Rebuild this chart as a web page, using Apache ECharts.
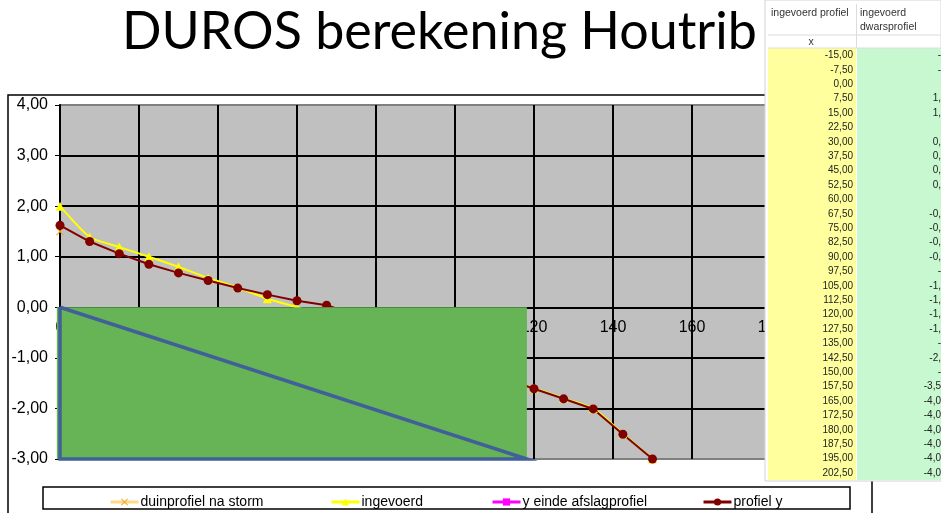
<!DOCTYPE html>
<html>
<head>
<meta charset="utf-8">
<script src="https://cdn.jsdelivr.net/npm/echarts@6/dist/echarts.min.js"></script>
<style>
  html, body { margin: 0; padding: 0; background: #fff; }
  #main { width: 941px; height: 513px; }
</style>
</head>
<body>
<div id="main"></div>
<script>
  // titel en reeksen
  const titleText = 'DUROS berekening Houtrib';
  const seriesNames = ['duinprofiel na storm', 'ingevoerd', 'y einde afslagprofiel', 'profiel y'];

  // x-waarden (m) van de profielpunten
  const xProfiel = [0, 7.5, 15, 22.5, 30, 37.5, 45, 52.5, 60, 67.5, 75, 82.5, 90, 97.5, 105,
    112.5, 120, 127.5, 135, 142.5, 150];
  const yProfiel = [1.62, 1.30, 1.06, 0.85, 0.68, 0.53, 0.38, 0.25, 0.13, 0.04, -0.15, -0.40,
    -0.65, -0.90, -1.15, -1.40, -1.61, -1.81, -2.01, -2.51, -3.00];

  const xIngevoerd = [0, 7.5, 15, 22.5, 30, 37.5, 45, 52.5, 60, 67.5, 75, 82.5, 90, 97.5, 105,
    112.5, 120, 127.5, 135, 142.5, 150, 157.5, 165, 172.5, 180, 187.5, 195, 202.5];
  const yIngevoerd = [2.00, 1.39, 1.19, 1.00, 0.80, 0.58, 0.39, 0.17, 0.00, -0.20, -0.40, -0.60,
    -0.80, -1.00, -1.20, -1.40, -1.60, -1.80, -2.00, -2.50, -3.00, -3.50, -4.00, -4.00, -4.00,
    -4.00, -4.00, -4.00];

  const xDuin = [0];
  const yDuin = [1.50];

  // afgeplakt vlak (groen) en driehoek (blauw) in grafiekcoordinaten
  const vlakX = [-0.8, 118.2];
  const vlakY = [0, -3];
  const driehoek = [[0, 0], [118.2, -3], [0, -3], [0, 0]];

  // tabel rechts
  const tabelX = ['-15,00', '-7,50', '0,00', '7,50', '15,00', '22,50', '30,00', '37,50', '45,00',
    '52,50', '60,00', '67,50', '75,00', '82,50', '90,00', '97,50', '105,00', '112,50', '120,00',
    '127,50', '135,00', '142,50', '150,00', '157,50', '165,00', '172,50', '180,00', '187,50',
    '195,00', '202,50'];
  const tabelDwars = ['-', '-', '', '1,', '1,', '', '0,', '0,', '0,', '0,', '', '-0,', '-0,', '-0,',
    '-0,', '-', '-1,', '-1,', '-1,', '-1,', '-', '-2,', '-', '-3,5', '-4,0', '-4,0', '-4,0', '-4,0',
    '-4,0', '-4,0'];

  const yMin = -3, yMax = 4;
  const zip = (xs, ys) => xs.map((x, i) => [x, ys[i]]);
  const kruis = 'path://M0,1L1,0L5,4L9,0L10,1L6,5L10,9L9,10L5,6L1,10L0,9L4,5Z';

  // titel passend maken op de breedte uit het origineel
  const ctx = document.createElement('canvas').getContext('2d');
  ctx.font = '100px Lato';
  const titleSize = Math.round(100 * 633 / ctx.measureText(titleText).width);

  // plotgebied
  const gridTop = 105, gridBottom = 54;
  const plotH = 513 - gridTop - gridBottom;
  // x-as ligt op y = 0 (zoals in Excel)
  const xAsOffset = -plotH * (0 - yMin) / (yMax - yMin);

  const chart = echarts.init(document.getElementById('main'));

  const kopFont = '10.5px "Liberation Sans"';
  const celFont = '10px "Liberation Sans"';
  let graphics = [
    // kader van de grafiek
    {type: 'rect', shape: {x: 8, y: 95, width: 864, height: 440},
      style: {fill: null, stroke: '#000', lineWidth: 1.5}, z: 50},
    // kader legenda
    {type: 'rect', shape: {x: 43, y: 487, width: 807, height: 22},
      style: {fill: null, stroke: '#000', lineWidth: 1.5}, z: 50},
    {type: 'text', x: 122, y: 32, z: 100,
      style: {text: titleText, font: titleSize + 'px Lato', fill: '#000', align: 'left', verticalAlign: 'middle'}},
    // tabel
    {type: 'rect', shape: {x: 765, y: 0, width: 176, height: 481},
      style: {fill: '#fff', stroke: '#d4d4d4', lineWidth: 1}, z: 100},
    {type: 'rect', shape: {x: 768, y: 48, width: 88, height: 432}, style: {fill: '#FFFF9E'}, z: 101},
    {type: 'rect', shape: {x: 857, y: 48, width: 84, height: 432}, style: {fill: '#C8F8D0'}, z: 101},
    {type: 'line', shape: {x1: 768, y1: 35, x2: 941, y2: 35}, style: {stroke: '#dcdcdc', lineWidth: 1}, z: 101},
    {type: 'line', shape: {x1: 768, y1: 48, x2: 941, y2: 48}, style: {stroke: '#dcdcdc', lineWidth: 1}, z: 101},
    {type: 'line', shape: {x1: 856.5, y1: 4, x2: 856.5, y2: 48}, style: {stroke: '#dcdcdc', lineWidth: 1}, z: 101},
    {type: 'text', x: 771, y: 13, z: 102,
      style: {text: 'ingevoerd profiel', font: kopFont, fill: '#333', verticalAlign: 'middle'}},
    {type: 'text', x: 860, y: 13, z: 102,
      style: {text: 'ingevoerd', font: kopFont, fill: '#333', verticalAlign: 'middle'}},
    {type: 'text', x: 860, y: 27, z: 102,
      style: {text: 'dwarsprofiel', font: kopFont, fill: '#333', verticalAlign: 'middle'}},
    {type: 'text', x: 811, y: 42, z: 102,
      style: {text: 'x', font: kopFont, fill: '#333', align: 'center', verticalAlign: 'middle'}}
  ];
  tabelX.forEach((t, i) => {
    const y = 55.4 + 14.4 * i;
    graphics.push({type: 'text', x: 853, y: y, z: 102,
      style: {text: t, font: celFont, fill: '#222', align: 'right', verticalAlign: 'middle'}});
    if (tabelDwars[i]) {
      graphics.push({type: 'text', x: 941, y: y, z: 102,
        style: {text: tabelDwars[i], font: celFont, fill: '#222', align: 'right', verticalAlign: 'middle'}});
    }
  });

  const legendBase = {
    top: 490, itemWidth: 28, itemHeight: 9, itemGap: 0,
    lineStyle: {width: 3},
    textStyle: {fontSize: 14, color: '#000', fontFamily: 'Liberation Sans', padding: [0, 0, 0, -3]}
  };
  const legendLeft = [104, 325, 486, 697];

  const option = {
    animation: false,
    backgroundColor: '#fff',
    legend: seriesNames.map((n, i) => Object.assign({}, legendBase, {data: [n], left: legendLeft[i]})),
    grid: {
      left: 60, right: 91, top: gridTop, bottom: gridBottom,
      show: true, backgroundColor: '#C0C0C0', borderColor: '#808080', borderWidth: 2
    },
    xAxis: {
      type: 'value', min: 0, max: 200, interval: 20,
      offset: xAsOffset,
      axisLine: {onZero: false, lineStyle: {color: '#000', width: 1.5}},
      axisTick: {show: true, length: 5, lineStyle: {color: '#000'}},
      axisLabel: {fontSize: 16, color: '#000', fontFamily: 'Liberation Sans', margin: 12},
      splitLine: {show: true, lineStyle: {color: '#000', width: 2}}
    },
    yAxis: {
      type: 'value', min: yMin, max: yMax, interval: 1,
      axisLine: {show: true, onZero: false, lineStyle: {color: '#000', width: 2}},
      axisTick: {show: true, length: 5, lineStyle: {color: '#000'}},
      axisLabel: {
        fontSize: 16, color: '#000', fontFamily: 'Liberation Sans', margin: 12,
        formatter: v => v.toFixed(2).replace('.', ',')
      },
      splitLine: {show: true, lineStyle: {
        color: ['#808080', '#000', '#000', '#000', '#000', '#000', '#000', '#808080'], width: 2}}
    },
    series: [
      {
        name: seriesNames[1], type: 'line', data: zip(xIngevoerd, yIngevoerd),
        smooth: 0.2, symbol: 'triangle', symbolSize: 9,
        lineStyle: {color: '#FFFF00', width: 2},
        itemStyle: {color: '#FFFF00'}
      },
      {
        name: seriesNames[2], type: 'line', data: [],
        symbol: 'rect', symbolSize: 8,
        lineStyle: {color: '#FF00FF', width: 2},
        itemStyle: {color: '#FF00FF'}
      },
      {
        name: seriesNames[3], type: 'line', data: zip(xProfiel, yProfiel),
        symbol: 'circle', symbolSize: 9,
        lineStyle: {color: '#800000', width: 2},
        itemStyle: {color: '#800000'}
      },
      {
        name: seriesNames[0], type: 'line', data: zip(xDuin, yDuin), z: 1,
        symbol: kruis, symbolSize: 8,
        lineStyle: {color: '#FFD98A', width: 3},
        itemStyle: {color: '#F5A623'}
      },
      {
        name: 'vlak', type: 'custom', z: 10, clip: false,
        data: [[vlakX[0], vlakY[0], vlakX[1], vlakY[1]]],
        encode: {x: [0, 2], y: [1, 3]},
        renderItem: (params, api) => {
          const p0 = api.coord([api.value(0), api.value(1)]);
          const p1 = api.coord([api.value(2), api.value(3)]);
          return {
            type: 'group',
            children: [
              {type: 'rect', shape: {x: p0[0], y: p0[1], width: p1[0] - p0[0], height: p1[1] - p0[1]},
                style: {fill: '#66B455'}},
              {type: 'polyline', shape: {points: driehoek.map(p => api.coord(p))},
                style: {fill: null, stroke: '#41609A', lineWidth: 3.5, lineJoin: 'miter'}}
            ]
          };
        }
      }
    ],
    graphic: graphics
  };
  chart.setOption(option);
</script>
</body>
</html>
